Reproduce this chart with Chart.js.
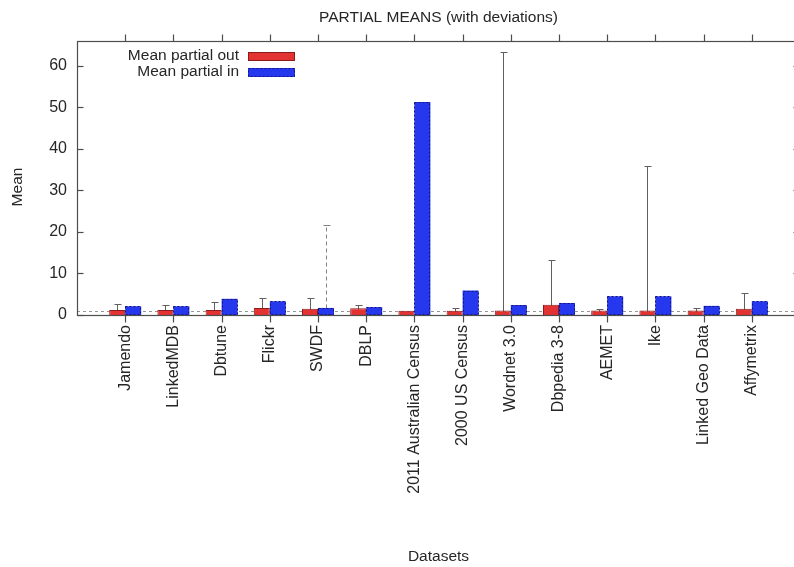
<!DOCTYPE html>
<html>
<head>
<meta charset="utf-8">
<script src="https://cdn.jsdelivr.net/npm/chart.js@4.4.1/dist/chart.umd.min.js"></script>
<style>
  html, body { margin: 0; padding: 0; background: #fff; overflow: hidden; }
  #wrap { width: 794px; height: 567px; overflow: hidden; position: relative; }
  #c { position: absolute; left: 0; top: 0; }
</style>
</head>
<body>
<div id="wrap"><canvas id="c" width="810" height="567"></canvas></div>
<script>
// Datasets on the x axis
const datasetNames = ["Jamendo", "LinkedMDB", "Dbtune", "Flickr", "SWDF", "DBLP",
  "2011 Australian Census", "2000 US Census", "Wordnet 3.0", "Dbpedia 3-8",
  "AEMET", "Ike", "Linked Geo Data", "Affymetrix"];

// Mean partial out / in per dataset
const meanPartialOut = [1.2, 1.2, 1.2, 1.7, 1.5, 1.6, 1.05, 1.05, 1.1, 2.45, 1.1, 1.1, 1.1, 1.5];
const meanPartialIn  = [2.1, 2.1, 3.9, 3.3, 1.7, 1.9, 51.3, 5.9, 2.4, 2.9, 4.5, 4.5, 2.2, 3.3];

// Standard deviations (null = not drawn)
const devPartialOut = [1.45, 1.15, 2.0, 2.4, 2.6, 0.8, null, 0.55, 62.3, 10.85, 0.4, 34.9, 0.6, 3.7];
const devPartialIn  = [null, null, null, null, 19.9, null, null, null, null, null, null, null, null, null];

// Y axis tick values and reference level
const yTicks = [0, 10, 20, 30, 40, 50, 60];
const referenceLevel = 1.0;
const yAxisLabel = 'Mean';

const FONT = '"Liberation Sans", Arial, sans-serif';
const TEXT = '#262626';
const AXIS = '#4d4d4d';
const RED = 'rgb(226,50,50)', RED_EDGE = 'rgb(140,28,28)';
const BLUE = 'rgb(38,56,238)', BLUE_EDGE = 'rgb(18,18,120)';

const decorations = {
  id: 'decorations',
  beforeDatasetsDraw(chart) {
    const { ctx, chartArea: a, scales: { y } } = chart;
    ctx.save();
    ctx.beginPath();
    ctx.rect(a.left, a.top, a.right - a.left, a.bottom - a.top);
    ctx.clip();
    // dotted reference line
    ctx.strokeStyle = 'rgb(150,150,150)';
    ctx.lineWidth = 1;
    ctx.setLineDash([3, 3]);
    const ry = Math.round(y.getPixelForValue(referenceLevel)) + 0.5;
    ctx.beginPath(); ctx.moveTo(a.left, ry); ctx.lineTo(a.right, ry); ctx.stroke();

    // error bars, centred on each bar
    const drawErr = (metaIdx, means, devs, dash, color) => {
      const meta = chart.getDatasetMeta(metaIdx);
      ctx.strokeStyle = color;
      ctx.lineWidth = 1;
      meta.data.forEach((bar, i) => {
        const d = devs[i];
        if (d === null || d === undefined) return;
        const cx = Math.round(bar.x) + 0.5;
        const lo = Math.max(0, means[i] - d);
        const yTop = Math.round(y.getPixelForValue(means[i] + d)) + 0.5;
        const yBot = Math.round(y.getPixelForValue(lo)) + 0.5;
        ctx.setLineDash(dash);
        ctx.beginPath(); ctx.moveTo(cx, yBot); ctx.lineTo(cx, yTop); ctx.stroke();
        ctx.setLineDash([]);
        ctx.beginPath(); ctx.moveTo(cx - 3, yTop); ctx.lineTo(cx + 4, yTop); ctx.stroke();
        if (lo > 0) { ctx.beginPath(); ctx.moveTo(cx - 3, yBot); ctx.lineTo(cx + 4, yBot); ctx.stroke(); }
      });
    };
    drawErr(0, meanPartialOut, devPartialOut, [], 'rgb(95,95,95)');
    drawErr(1, meanPartialIn, devPartialIn, [4, 3], 'rgb(130,130,130)');
    ctx.restore();
  },
  afterDatasetsDraw(chart) {
    const { ctx, chartArea: a, scales: { x, y } } = chart;
    ctx.save();
    // dashed outline on the "in" bars
    const metaIn = chart.getDatasetMeta(1);
    ctx.strokeStyle = BLUE_EDGE;
    ctx.lineWidth = 1;
    ctx.setLineDash([2, 2]);
    metaIn.data.forEach(bar => {
      const l = Math.round(bar.x - bar.width / 2) + 0.5;
      const r = Math.round(bar.x + bar.width / 2) - 0.5;
      const t = Math.round(bar.y) + 0.5;
      const b = Math.round(bar.base) - 0.5;
      ctx.strokeRect(l, t, r - l, b - t);
    });
    ctx.setLineDash([]);

    // frame
    ctx.strokeStyle = AXIS;
    ctx.lineWidth = 1.2;
    const L = Math.round(a.left) + 0.5, R = Math.round(a.right) - 0.5;
    const T = Math.round(a.top) + 0.5, B = Math.round(a.bottom) + 0.5;
    ctx.strokeRect(L, T, R - L, B - T);

    // x ticks: outward on bottom and top
    datasetNames.forEach((_, i) => {
      const px = Math.round(x.getPixelForValue(i)) + 0.5;
      ctx.beginPath(); ctx.moveTo(px, B); ctx.lineTo(px, B + 7); ctx.stroke();
      ctx.beginPath(); ctx.moveTo(px, T); ctx.lineTo(px, T - 7); ctx.stroke();
    });
    // y ticks: inward on left and right
    yTicks.forEach(v => {
      const py = Math.round(y.getPixelForValue(v)) + 0.5;
      ctx.beginPath(); ctx.moveTo(L, py); ctx.lineTo(L + 6, py); ctx.stroke();
      ctx.beginPath(); ctx.moveTo(R, py); ctx.lineTo(R - 6, py); ctx.stroke();
    });

    // y axis label, rotated
    ctx.save();
    ctx.translate(18, (a.top + a.bottom) / 2 + 9);
    ctx.rotate(-Math.PI / 2);
    ctx.font = '15.5px ' + FONT;
    ctx.fillStyle = TEXT;
    ctx.textAlign = 'center';
    ctx.textBaseline = 'middle';
    ctx.fillText(yAxisLabel, 0, 0);
    ctx.restore();

    // key, text right-aligned with the swatch to its right
    ctx.font = '15.5px ' + FONT;
    ctx.textAlign = 'right';
    ctx.textBaseline = 'middle';
    const keyX = a.left + 162, swX = a.left + 171, swW = 47, swH = 9;
    chart.data.datasets.forEach((ds, k) => {
      const cy = a.top + 15 + k * 16;
      ctx.fillStyle = TEXT;
      ctx.fillText(ds.label, keyX, cy);
      ctx.fillStyle = ds.backgroundColor;
      ctx.fillRect(swX, Math.round(cy - swH / 2), swW, swH);
      ctx.strokeStyle = k === 1 ? BLUE_EDGE : ds.borderColor;
      ctx.lineWidth = 1;
      ctx.setLineDash(k === 1 ? [2, 2] : []);
      ctx.strokeRect(swX + 0.5, Math.round(cy - swH / 2) + 0.5, swW - 1, swH - 1);
    });
    ctx.restore();
  }
};

new Chart(document.getElementById('c'), {
  type: 'bar',
  data: {
    datasets: [
      {
        label: 'Mean partial out',
        data: meanPartialOut.map((v, i) => ({ x: i, y: v })),
        backgroundColor: RED, borderColor: RED_EDGE, borderWidth: 1
      },
      {
        label: 'Mean partial in',
        data: meanPartialIn.map((v, i) => ({ x: i, y: v })),
        backgroundColor: BLUE, borderColor: BLUE_EDGE, borderWidth: 0
      }
    ]
  },
  options: {
    responsive: false,
    devicePixelRatio: 1,
    animation: false,
    categoryPercentage: 0.664,
    barPercentage: 1.0,
    layout: { padding: { left: 0, right: 10, top: 0, bottom: 0 } },
    plugins: {
      legend: { display: false },
      tooltip: { enabled: false },
      title: {
        display: true,
        fullSize: false,
        text: 'PARTIAL MEANS (with deviations)',
        color: TEXT,
        font: { family: FONT, size: 15.5, weight: 'normal' },
        padding: { top: 8.5, bottom: 13.9 }
      }
    },
    scales: {
      x: {
        type: 'linear',
        min: -1,
        max: 14,
        offset: false,
        grid: { display: false, drawTicks: false },
        border: { display: false },
        afterBuildTicks: s => { s.ticks = datasetNames.map((_, i) => ({ value: i })); },
        afterFit: s => { s.height = 252; },
        ticks: {
          autoSkip: false,
          minRotation: 90,
          maxRotation: 90,
          padding: 10,
          color: TEXT,
          font: { family: FONT, size: 16 },
          callback: v => datasetNames[v] ?? ''
        },
        title: {
          display: true,
          text: 'Datasets',
          color: TEXT,
          font: { family: FONT, size: 15.5 },
          padding: { top: 0, bottom: 1 }
        }
      },
      y: {
        min: 0,
        max: 66,
        grid: { display: false, drawTicks: false },
        border: { display: false },
        afterBuildTicks: s => { s.ticks = yTicks.map(v => ({ value: v })); },
        afterFit: s => { s.width = 77; },
        ticks: {
          padding: 10,
          color: TEXT,
          font: { family: FONT, size: 16 }
        },
        title: { display: false }
      }
    }
  },
  plugins: [decorations]
});
</script>
</body>
</html>
